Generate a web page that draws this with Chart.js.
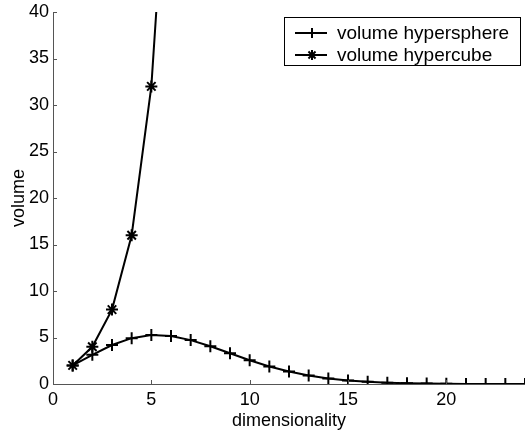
<!DOCTYPE html>
<html>
<head>
<meta charset="utf-8">
<script src="https://cdn.jsdelivr.net/npm/chart.js@4"></script>
<style>
  html, body { margin: 0; padding: 0; background: #fff; }
  #wrap { width: 525px; height: 432px; }
</style>
</head>
<body>
<div id="wrap"><canvas id="chart" width="525" height="432"></canvas></div>
<script>
const dims = [1, 2, 3, 4, 5, 6, 7, 8, 9, 10, 11, 12, 13, 14, 15, 16, 17, 18, 19, 20, 21, 22, 23, 24];
const sphereVol = [2, 3.14, 4.19, 4.93, 5.26, 5.17, 4.72, 4.06, 3.30, 2.55, 1.88, 1.34, 0.91, 0.60, 0.38,
  0.24, 0.14, 0.08, 0.05, 0.03, 0.01, 0.01, 0.004, 0.002];
const cubeDims = [1, 2, 3, 4, 5, 6];
const cubeVol = [2, 4, 8, 16, 32, 64];
const xTicks = [0, 5, 10, 15, 20];
const yTicks = [0, 5, 10, 15, 20, 25, 30, 35, 40];
const labels = ['volume hypersphere', 'volume hypercube'];

const FONT = 'Liberation Sans, Arial, Helvetica, sans-serif';
const AXIS = '#555';

const toPoints = (xs, ys) => xs.map((x, i) => ({ x, y: ys[i] }));

// matlab style ticks pointing into the plot
const innerTicks = {
  id: 'innerTicks',
  afterDraw(chart) {
    const { ctx, chartArea, scales } = chart;
    ctx.save();
    ctx.strokeStyle = AXIS;
    ctx.lineWidth = 1;
    ctx.beginPath();
    xTicks.forEach((v) => {
      const px = Math.round(scales.x.getPixelForValue(v)) + 0.5;
      ctx.moveTo(px, chartArea.bottom);
      ctx.lineTo(px, chartArea.bottom - 4);
    });
    yTicks.forEach((v) => {
      const py = Math.round(scales.y.getPixelForValue(v)) + 0.5;
      ctx.moveTo(chartArea.left, py);
      ctx.lineTo(chartArea.left + 4, py);
    });
    ctx.stroke();
    ctx.restore();
  },
};

// boxed legend in the top right corner
const boxLegend = {
  id: 'boxLegend',
  afterDraw(chart) {
    const { ctx } = chart;
    const left = 284;
    const top = 17;
    const w = 236;
    const h = 48;
    ctx.save();
    ctx.fillStyle = '#fff';
    ctx.fillRect(left, top, w, h);
    ctx.strokeStyle = '#000';
    ctx.lineWidth = 1;
    ctx.strokeRect(left + 0.5, top + 0.5, w, h);
    ctx.font = `19px ${FONT}`;
    ctx.textBaseline = 'middle';
    chart.data.datasets.forEach((ds, i) => {
      const y = top + 16 + i * 22;
      ctx.strokeStyle = '#000';
      ctx.lineWidth = 2;
      ctx.beginPath();
      ctx.moveTo(left + 11, y);
      ctx.lineTo(left + 43, y);
      ctx.stroke();
      Chart.helpers.drawPoint(ctx, {
        pointStyle: ds.pointStyle,
        radius: 5,
        rotation: 0,
        borderWidth: 2,
      }, left + 28, y);
      ctx.fillStyle = '#000';
      ctx.fillText(ds.label, left + 53, y + 1);
    });
    ctx.restore();
  },
};

const initChart = () => {
  new Chart(document.getElementById('chart'), {
    type: 'line',
    data: {
      datasets: [
        {
          label: labels[0],
          data: toPoints(dims, sphereVol),
          borderColor: '#000',
          backgroundColor: '#000',
          borderWidth: 2,
          pointStyle: 'cross',
          pointRadius: 6,
          pointBorderWidth: 2,
          pointBorderColor: '#000',
          tension: 0,
        },
        {
          label: labels[1],
          data: toPoints(cubeDims, cubeVol),
          borderColor: '#000',
          backgroundColor: '#000',
          borderWidth: 2,
          pointStyle: 'star',
          pointRadius: 6,
          pointBorderWidth: 2,
          pointBorderColor: '#000',
          tension: 0,
        },
      ],
    },
    options: {
      responsive: false,
      animation: false,
      layout: { autoPadding: false, padding: { top: 12, right: -1, left: 0, bottom: 0 } },
      plugins: {
        legend: { display: false },
        tooltip: { enabled: false },
      },
      scales: {
        x: {
          type: 'linear',
          min: 0,
          max: 24,
          afterFit: (s) => {
            s.height = 48;
            s.paddingRight = 0;
            s.paddingLeft = 0;
          },
          afterBuildTicks: (s) => { s.ticks = xTicks.map((v) => ({ value: v })); },
          grid: { drawOnChartArea: false, drawTicks: false },
          border: { display: true, color: AXIS, width: 1 },
          ticks: { color: '#000', font: { family: FONT, size: 18 }, padding: 5, maxRotation: 0 },
          title: {
            display: true,
            text: 'dimensionality',
            color: '#000',
            font: { family: FONT, size: 18 },
            padding: { top: 0, bottom: 0 },
          },
        },
        y: {
          type: 'linear',
          min: 0,
          max: 40,
          afterFit: (s) => {
            s.width = 53;
            s.paddingTop = 0;
            s.paddingBottom = 0;
          },
          afterBuildTicks: (s) => { s.ticks = yTicks.map((v) => ({ value: v })); },
          grid: { drawOnChartArea: false, drawTicks: false },
          border: { display: true, color: AXIS, width: 1 },
          ticks: { color: '#000', font: { family: FONT, size: 18 }, padding: 4 },
          title: {
            display: true,
            text: 'volume',
            color: '#000',
            font: { family: FONT, size: 18 },
            padding: { top: 8, bottom: 0 },
          },
        },
      },
    },
    plugins: [innerTicks, boxLegend],
  });
};

initChart();
</script>
</body>
</html>
